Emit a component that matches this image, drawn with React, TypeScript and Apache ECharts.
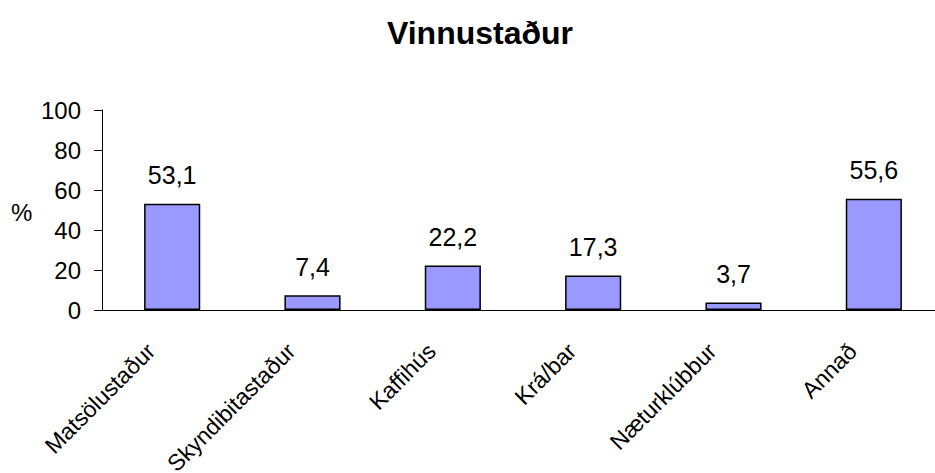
import React, { useEffect, useRef } from "react";
import * as echarts from "echarts";

const titleText = "Vinnustaður";
const categories = ["Matsölustaður", "Skyndibitastaður", "Kaffihús", "Krá/bar", "Næturklúbbur", "Annað"];
const values = [53.1, 7.4, 22.2, 17.3, 3.7, 55.6];
const yTicks = { min: 0, max: 100, interval: 20 };
const yUnit = "%";

const FONT = "'Liberation Sans', Arial, sans-serif";

export default function App() {
  const ref = useRef<HTMLDivElement>(null);
  useEffect(() => {
    if (!ref.current) return;
    const chart = echarts.init(ref.current, null, { renderer: "svg" });
    chart.setOption({
      animation: false,
      backgroundColor: "#ffffff",
      title: {
        text: titleText,
        left: 475,
        textAlign: "center",
        top: 12,
        textStyle: { fontFamily: FONT, fontSize: 32, fontWeight: "bold", color: "#000" },
      },
      graphic: [
        {
          type: "text",
          left: 11,
          top: 200,
          style: { text: yUnit, fontFamily: FONT, fontSize: 24, fill: "#000" },
        },
      ],
      grid: { left: 102, right: 0, top: 110, bottom: 163, containLabel: false, outerBoundsMode: "none" },
      xAxis: {
        type: "category",
        data: categories,
        axisLine: { show: true, lineStyle: { color: "#000", width: 1 } },
        axisTick: { show: false },
        axisLabel: {
          rotate: 45,
          interval: 0,
          margin: 16,
          padding: [0, 30, 0, 0],
          fontFamily: FONT,
          fontSize: 23,
          color: "#000",
        },
      },
      yAxis: {
        type: "value",
        min: yTicks.min,
        max: yTicks.max,
        interval: yTicks.interval,
        splitLine: { show: false },
        axisLine: { show: true, lineStyle: { color: "#000", width: 1 } },
        axisTick: { show: true, length: 8, lineStyle: { color: "#000" } },
        axisLabel: { margin: 21, fontFamily: FONT, fontSize: 24, color: "#000" },
      },
      series: [
        {
          type: "bar",
          data: values,
          barCategoryGap: "60%",
          itemStyle: { color: "#9999FF", borderColor: "#000", borderWidth: 1.5 },
          label: {
            show: true,
            position: "top",
            distance: 16,
            fontFamily: FONT,
            fontSize: 25,
            color: "#000",
            formatter: (p: any) => String(p.value).replace(".", ","),
          },
        },
      ],
    });
    return () => chart.dispose();
  }, []);
  return (
    <div style={{ position: "fixed", left: 0, top: 0, width: 935, height: 473, overflow: "hidden" }}>
      <div ref={ref} style={{ width: 944, height: 473 }} />
    </div>
  );
}
